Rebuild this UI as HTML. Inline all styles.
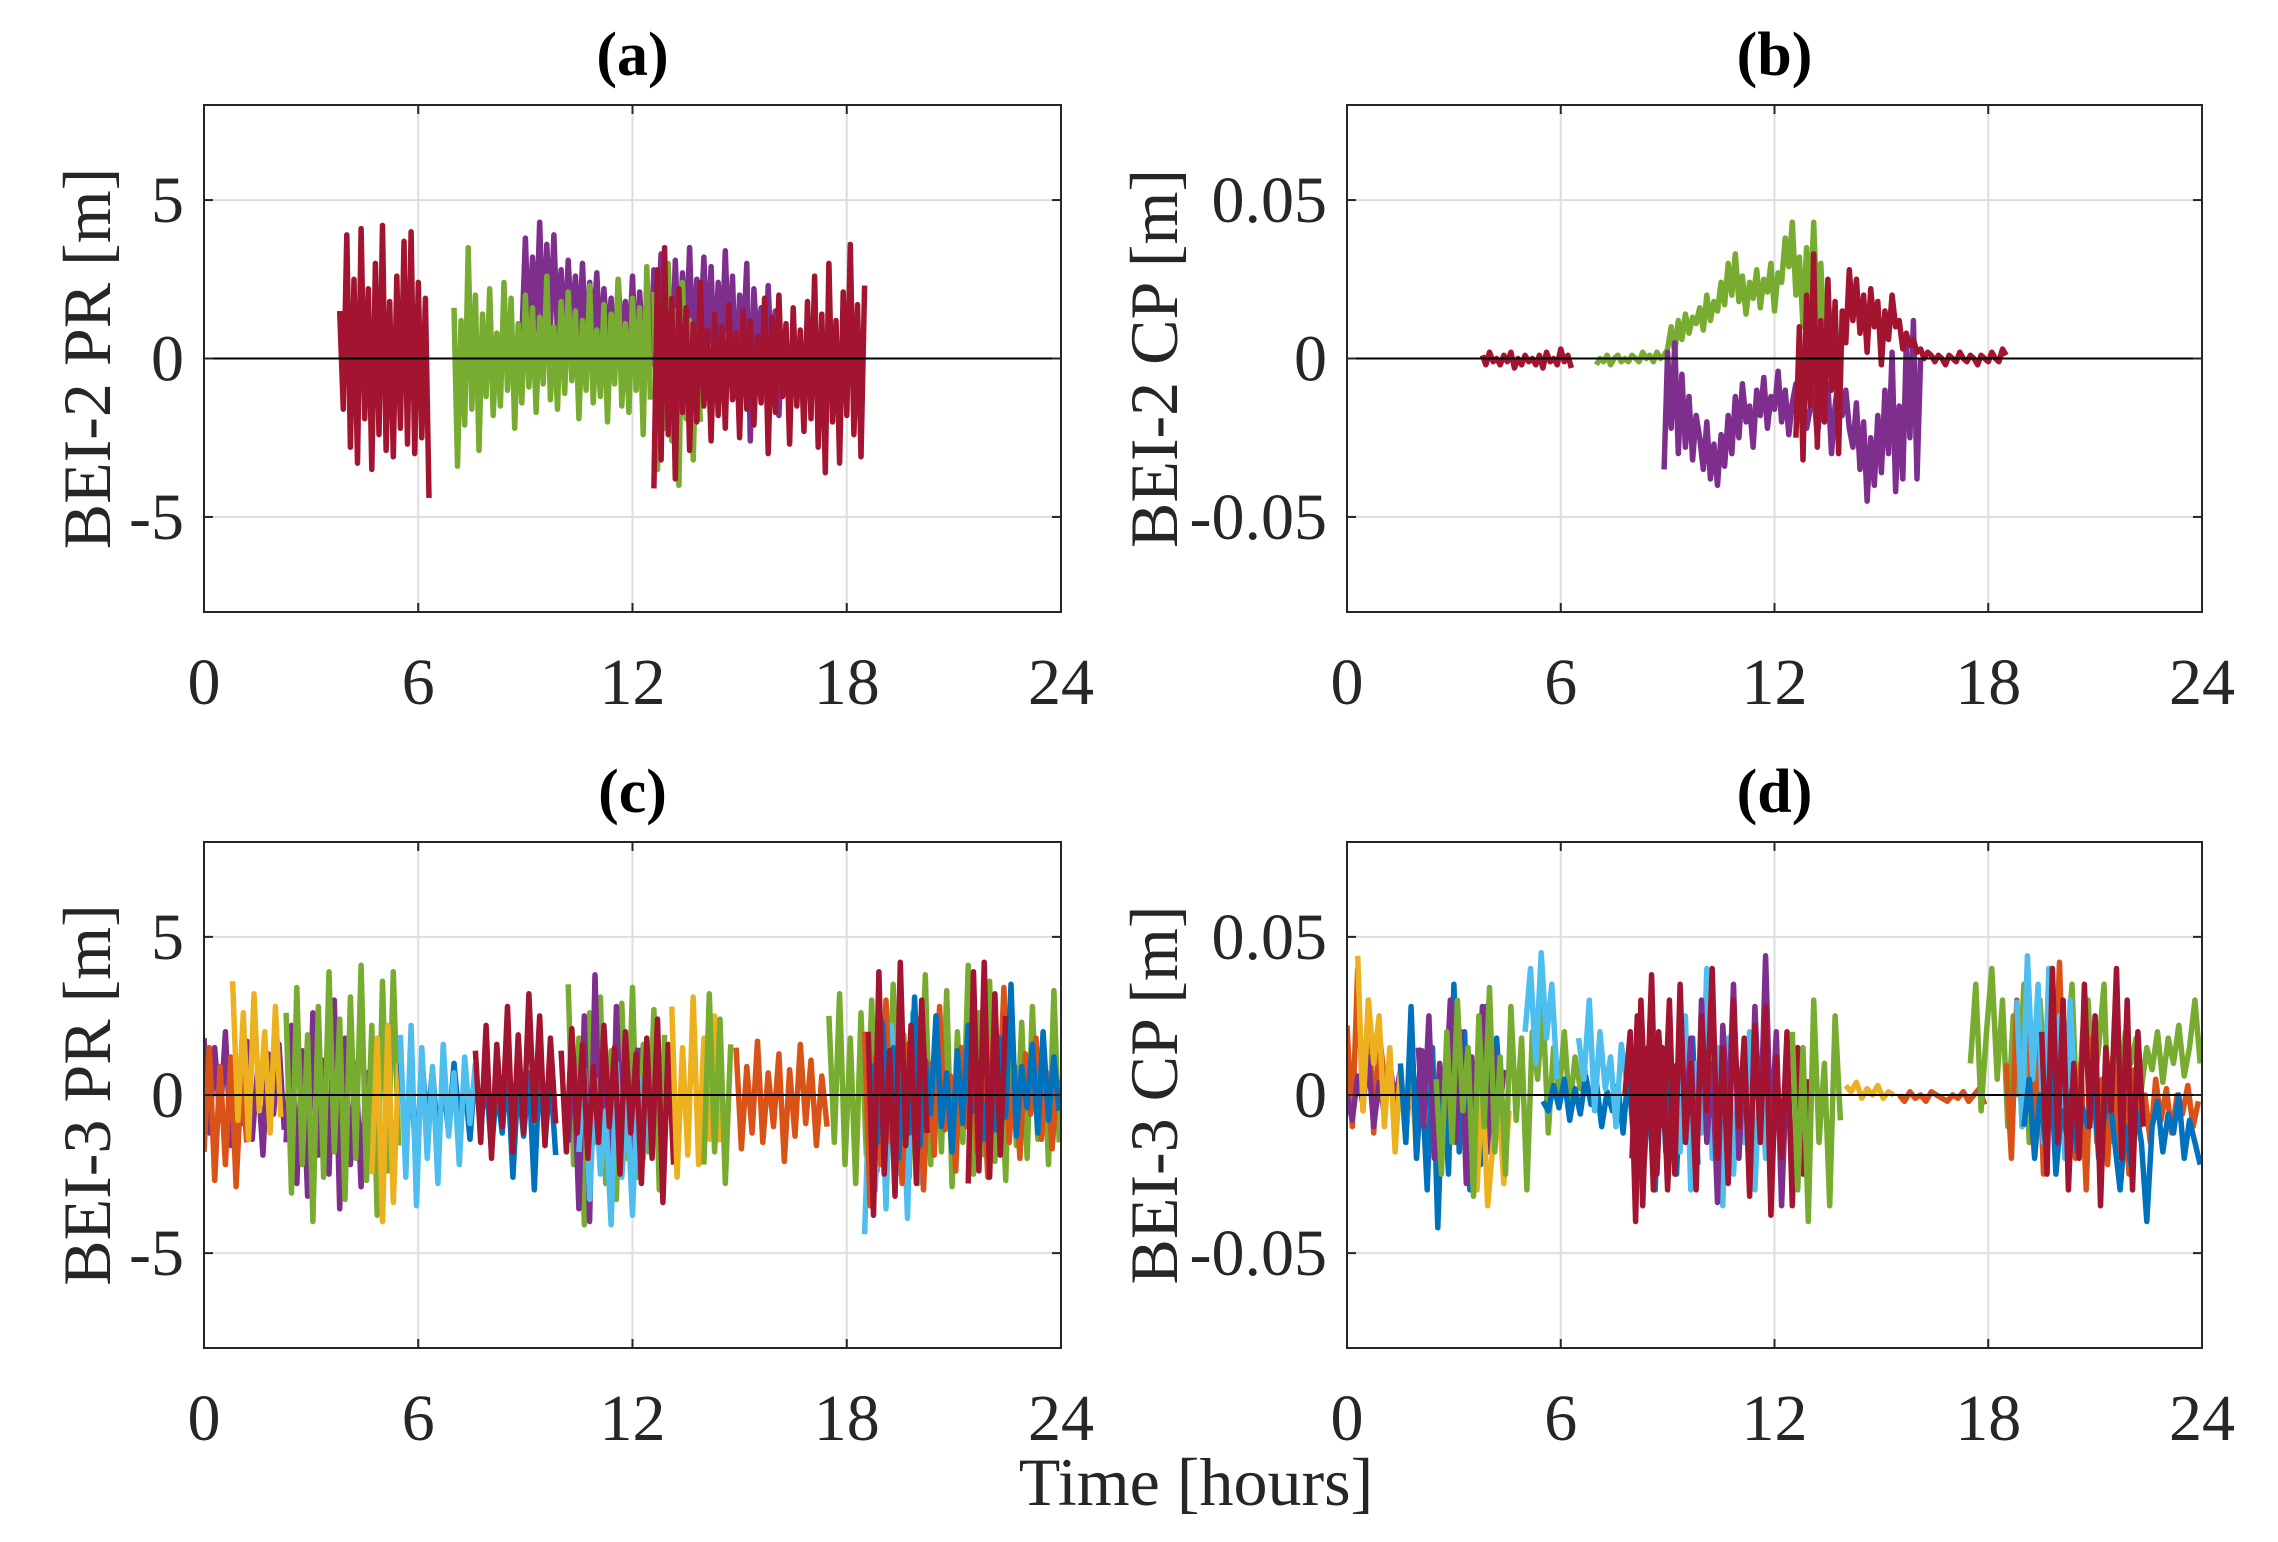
<!DOCTYPE html>
<html><head><meta charset="utf-8"><style>
html,body{margin:0;padding:0;background:#fff;}
svg{display:block;font-family:"Liberation Serif","DejaVu Serif",serif;}
</style></head><body>
<svg id="fig" width="2278" height="1542" viewBox="0 0 2278 1542" xmlns="http://www.w3.org/2000/svg"></svg>
<script>
const C={blue:"#0072BD",orange:"#D95319",yellow:"#EDB120",purple:"#7E2F8E",green:"#77AC30",cyan:"#4DBEEE",red:"#A2142F"};
const xTicks=[0,6,12,18,24];
const prTicks=[-5,0,5];
const cpTicks=[-0.05,0,0.05];
const prTickLabels=["-5","0","5"];
const cpTickLabels=["-0.05","0","0.05"];
const panelTitles=["(a)","(b)","(c)","(d)"];
const yLabels=["BEI-2 PR [m]","BEI-2 CP [m]","BEI-3 PR [m]","BEI-3 CP [m]"];

// Panel a series
const aColors=["purple","green","green","red","red"];
const aStarts=[8.9,7.0,12.6,3.8,12.6];
const aStep=0.1;
const aVals=[
[0.6,3.8,0.4,3.2,0.9,4.3,0.5,3.6,1.0,3.9,0.7,2.8,0.4,3.1,0.9,2.6,0.6,3.0,0.3,2.4,0.8,2.7,0.2,2.2,0.5,1.9,-0.3,2.5,0.4,1.8,0.1,2.6,-0.4,2.1,0.3,1.9,-0.2,2.8,0.6,3.3,0.2,2.9,-0.6,3.1,0.1,2.7,0.4,3.5,-0.1,2.5,0.8,3.2,0.2,2.9,-0.5,2.4,0.3,3.4,0.0,2.6,-1.2,2.0,0.5,3.0,-2.6,2.2,0.2,1.6,-1.0,2.3,-0.4,1.5,-1.8,0.8],
[1.6,-3.4,1.2,-2.1,3.5,-1.6,2.0,-2.9,1.4,-1.2,2.2,-1.8,0.8,-1.5,2.4,-1.0,1.9,-2.2,1.1,-1.4,2.0,-0.9,1.6,-1.7,1.3,-0.8,2.6,-1.3,1.0,-1.6,1.8,-1.1,2.1,-0.7,1.5,-1.9,1.2,-1.0,2.3,-1.4,0.9,-1.2,1.7,-2.0,1.4,-0.8,2.5,-1.5,1.1,-1.7,1.9,-1.0,1.6,-2.4,2.9,-1.3],
[2.1,-3.5,1.8,-2.2,3.0,-2.6,1.5,-4.0,2.4,-1.9,1.2,-3.2,0.9,-2.0],
[1.5,-1.6,3.9,-2.8,2.5,-3.3,4.1,-1.9,2.2,-3.5,3.0,-2.4,4.2,-2.9,1.8,-3.1,2.6,-2.2,3.7,-2.7,4.0,-3.0,2.4,-2.5,1.9,-4.4],
[-4.1,2.8,-3.2,3.5,-2.4,1.9,-3.8,2.2,-1.7,1.6,-2.9,1.1,-2.0,2.4,-1.5,0.9,-2.6,1.4,-1.8,1.0,-2.2,1.7,-1.3,0.8,-2.5,1.5,-1.6,1.2,-2.1,0.7,-1.4,1.9,-3.0,1.3,-1.7,2.0,-1.2,1.1,-2.7,1.6,-1.5,0.9,-2.3,1.8,-1.9,2.6,-2.8,1.4,-3.6,3.0,-2.0,1.2,-3.3,2.1,-1.8,3.6,-2.4,1.7,-3.1,2.3]
];
// Panel b series
const bColors=["red","green","purple","red"];
const bStarts=[3.8,7.0,8.9,12.6];
const bStep=0.1;
const bVals=[
[0.001,-0.002,0.002,-0.001,0.000,-0.002,0.001,-0.001,0.002,-0.003,0.000,-0.002,0.001,-0.001,0.000,-0.002,0.001,-0.003,0.002,-0.001,0.000,-0.002,0.003,-0.001,0.001,-0.003],
[-0.002,0.000,-0.001,0.001,-0.002,0.000,0.001,-0.001,0.000,-0.001,0.001,0.000,-0.001,0.002,0.000,0.001,-0.001,0.002,0.000,0.001,0.003,0.010,0.002,0.012,0.006,0.014,0.008,0.013,0.011,0.016,0.009,0.020,0.012,0.018,0.015,0.024,0.017,0.030,0.020,0.033,0.018,0.026,0.014,0.024,0.019,0.028,0.016,0.025,0.021,0.030,0.015,0.027,0.024,0.038,0.029,0.043,0.020,0.032,0.010,0.035,0.015,0.043,0.012,0.030,0.005,0.022,0.000,0.014,-0.005,0.008],
[-0.035,0.002,-0.022,0.005,-0.030,-0.005,-0.028,-0.012,-0.032,-0.018,-0.025,-0.035,-0.020,-0.038,-0.027,-0.040,-0.024,-0.034,-0.018,-0.030,-0.012,-0.025,-0.008,-0.020,-0.015,-0.028,-0.010,-0.018,-0.006,-0.022,-0.012,-0.016,-0.004,-0.020,-0.010,-0.024,-0.014,-0.008,-0.018,-0.012,-0.022,-0.016,-0.010,-0.025,-0.012,-0.020,-0.008,-0.030,-0.015,-0.006,-0.018,-0.010,-0.022,-0.028,-0.014,-0.035,-0.020,-0.045,-0.025,-0.040,-0.018,-0.036,-0.010,-0.030,0.002,-0.042,-0.015,-0.038,0.005,-0.025,0.012,-0.038,0.000],
[-0.025,0.010,-0.032,0.020,-0.015,0.033,-0.028,0.012,-0.020,0.025,-0.010,0.018,-0.030,0.015,0.005,0.028,0.012,0.025,0.008,0.020,0.002,0.022,0.010,0.018,-0.002,0.015,0.006,0.020,0.010,0.012,0.003,0.008,0.004,0.006,0.002,0.003,0.000,0.002,0.001,-0.001,0.001,0.000,-0.002,0.001,0.000,-0.001,0.002,0.000,-0.001,0.001,0.000,-0.002,0.001,0.000,-0.001,0.002,0.000,-0.001,0.003,0.001]
];
// Panel c series
const cColors=["purple","orange","yellow","purple","green","yellow","blue","cyan","red","green","purple","cyan","red","yellow","green","orange","green","cyan","orange","blue","red","red"];
const cStarts=[0,0,0.8,2.3,2.3,4.7,5.5,5.5,7.6,10.2,10.2,10.5,10.0,13.1,14.0,14.9,17.5,18.5,18.5,18.7,18.6,21.4];
const cStep=0.15;
const cVals=[
[1.8,-1.2,1.5,-0.8,2.0,-1.6,1.1,-0.9,1.7,-1.4,0.8,-1.9,1.3,-0.6,1.6,-1.1],
[-1.8,1.5,-2.7,0.9,-2.2,1.2,-2.9,0.6,-1.5],
[3.6,-0.8,2.6,-1.4,3.2,-0.5,2.0,-1.2,2.8,-0.7],
[-1.5,2.2,-2.8,1.4,-3.2,2.6,-1.9,1.1,-2.5,3.0,-3.6,1.8,-2.2,1.0,-2.9,0.8],
[2.6,-3.1,3.4,-2.2,1.9,-4.0,2.8,-2.6,3.9,-1.8,2.4,-3.3,3.1,-2.0,4.1,-2.7,2.2,-3.8,3.6,-2.4,3.9,-1.6],
[-2.5,1.8,-4.0,2.2,-3.4,1.0],
[1.0,-1.6,0.6,-2.4,1.2,-1.0,0.8,-1.5,0.5,-1.2,1.0,-0.8,0.4,-1.4,0.9,-1.0,0.6,-1.8,0.3,-1.2,0.8,-2.6,0.5,-1.3,0.7,-3.0,1.1,-1.5,0.6,-1.9],
[1.9,-2.6,2.2,-3.5,1.5,-2.0,0.9,-2.8,1.6,-1.3,0.7,-2.2,1.2,-0.9,1.0],
[1.4,-1.5,2.2,-2.0,1.6,-1.0,2.8,-1.8,1.9,-1.2,3.2,-0.8,2.5,-1.6,1.8,-0.9],
[3.5,-2.2,1.8,-4.1,2.6,-1.5,3.1,-2.8,1.4,-3.3,2.9,-2.0,3.4,-2.6,1.6,-1.8,2.7,-3.0,1.9],
[-1.5,1.2,-3.6,2.5,-4.0,3.8,-2.2,1.0,-3.5,2.8,-1.8,0.9,-2.6,1.5],
[-1.8,0.8,-3.3,0.5,-2.5,-0.5,-4.1,1.0,-2.6,-0.2,-3.8,0.6,-2.0,0.3],
[1.4,-1.8,2.1,-1.2,1.6,-2.0,0.9,-1.5,2.2,-1.0,1.5,-2.5,2.0,-1.2,1.3,-2.8,1.8,-2.0,2.4,-3.4,1.6,-2.2],
[2.8,-2.6,1.5,-1.9,3.1,-2.2,1.8,-1.4,2.5,-1.5],
[-2.2,3.2,-1.8,2.4,-2.8,1.6],
[1.5,-1.7,0.9,-1.2,1.7,-1.5,0.7,-1.0,1.3,-2.1,0.8,-1.3,1.6,-0.9,1.1,-1.6,0.6,-1.0],
[2.5,-1.5,3.2,-2.2,1.8,-2.8,2.6,-1.9,3.0,-2.4,2.2,-1.6,3.5,-2.0,1.9,-2.6,2.8,-1.4,3.8,-2.2,2.4,-1.8,3.3,-2.9,2.0,-1.5,4.1,-2.5,2.6,-1.9,3.6,-2.1,1.7,-2.7,3.0,-1.6,2.3,-2.0,2.8,-1.4,1.9,-2.2,3.3,-1.5],
[-4.4,0.8,-3.0,1.5,-3.6,2.2,-2.5,0.9,-3.9,2.6,-2.8,0.5],
[2.0,-3.5,1.2,-2.2,3.0,-1.5,0.8,-2.8,1.6,-1.2,2.4,-3.0,1.0,-1.9,2.8,-1.1,0.6,-2.4,1.5,-1.0,2.2,-1.8,1.0,-2.6,1.8,-0.8,3.4,-1.5,0.9,-2.0,1.3,-0.6,1.8,-1.4,0.7,-1.7,0.5],
[1.0,-1.5,2.3,-0.8,1.5,-2.0,0.8,-1.2,3.1,-1.6,1.1,-0.6,2.5,-1.0,0.7,-1.8,1.4,-0.9,2.2,-0.5,1.0,-1.4,0.6,-1.1,1.8,-0.7,3.5,-1.3,0.9,-0.4,1.6,-1.2,2.0,-0.8,1.2,-0.5],
[2.0,-3.8,3.9,-2.5,1.4,-3.2,4.2,-1.6,2.2,-2.8,3.0,-1.2],
[-2.8,3.9,-2.4,4.2,-2.6,3.2,-1.9,2.5]
];
// Panel d series
const dColors=["orange","purple","yellow","blue","purple","yellow","green","cyan","blue","cyan","red","cyan","purple","red","green","yellow","orange","green","orange","cyan","blue","red"];
const dStarts=[0,0,0.3,1.5,2.0,3.5,2.5,5.0,5.5,6.5,7.8,9.2,9.5,8.0,12.5,14.0,15.5,17.5,18.5,18.8,19.0,19.5];
const dStep=0.15;
const dVals=[
[0.022,-0.010,0.040,-0.005,0.030,-0.012,0.020,0.005],
[0.000,-0.008,0.006,-0.003,0.012,-0.010,0.004,-0.006,0.010,-0.002,0.008,-0.012,0.005,-0.004,0.014,-0.008,0.002],
[0.044,-0.005,0.030,0.010,0.025,-0.010,0.015,-0.018,0.008,-0.015,0.012,-0.020,0.005,-0.012],
[0.010,-0.015,0.028,-0.020,0.005,-0.030,0.015,-0.042,0.008,-0.025,0.035,-0.018,0.020,-0.030,0.010,-0.022,0.028,-0.012,0.018,-0.008],
[0.015,-0.010,0.025,-0.020,0.010,-0.005,0.030,-0.015,0.020,-0.028,0.012,-0.008,0.028,-0.018,0.015,-0.010,0.008],
[-0.010,-0.030,0.005,-0.035,-0.015,0.000,-0.028,-0.005],
[0.005,-0.025,0.020,-0.015,0.030,-0.005,0.015,-0.032,0.025,-0.010,0.034,-0.018,0.012,-0.025,0.028,-0.008,0.018,-0.030,0.020,0.005,0.028,-0.012,0.015,0.000,0.020,-0.005,0.012,0.002,0.008],
[0.020,0.040,0.010,0.045,0.018,0.035,0.005],
[-0.002,-0.005,0.003,-0.004,0.005,-0.008,0.002,-0.006,0.006,-0.003,0.004,-0.010,0.001,-0.005,0.003,-0.012,0.008,-0.015,0.004,-0.020,0.010,-0.030,0.015,-0.018,0.006,-0.025,0.012,-0.010,0.018,-0.022],
[0.018,0.005,0.030,-0.005,0.020,0.002,0.012,-0.010,0.016,0.004],
[0.000,0.020,-0.040,0.030,-0.010,0.038,-0.025,0.015,-0.030,0.010],
[0.005,-0.018,0.025,-0.030,0.010,-0.012,0.040,-0.020,0.015,-0.035,0.018,-0.025,0.008,-0.015,0.020,-0.030,0.010,-0.020,0.005],
[-0.010,0.018,-0.028,0.030,-0.015,0.010,-0.034,0.022,-0.008,0.035,-0.020,0.015,-0.030,0.028,-0.012,0.044,-0.015,0.020,-0.035,0.010],
[-0.020,0.025,-0.035,0.015,-0.030,0.020,-0.010,0.030,-0.025,0.035,-0.015,0.010,-0.030,0.025,-0.005,0.040,-0.020,0.015,-0.028,0.030,-0.010,0.018,-0.032,0.022,-0.015,0.028,-0.038,0.012,-0.020,0.020,-0.035,0.015,-0.025,0.005],
[0.020,-0.030,0.015,-0.040,0.030,-0.015,0.010,-0.035,0.025,-0.008],
[0.003,0.001,0.004,-0.001,0.002,0.000,0.003,-0.001,0.001,0.000],
[0.000,-0.002,0.001,-0.001,0.000,-0.002,0.001,0.000,-0.001,-0.002,0.000,-0.001,0.001,-0.002,0.000,0.002,-0.003],
[0.010,0.035,-0.005,0.020,0.040,0.005,0.030,-0.010,0.025,0.000,0.035,-0.015,0.020,0.030,0.005,0.040,-0.005,0.025,0.010,0.035,-0.010,0.020,0.030,0.000,0.015,0.035,-0.015,0.025,0.005,0.020,0.010,0.018,0.002,0.015,0.008,0.020,0.004,0.018,0.010,0.022,0.006,0.015,0.030,0.010],
[0.010,-0.020,0.030,-0.010,0.040,-0.015,0.020,-0.025,0.035,-0.005,0.042,-0.012,0.025,-0.020,0.010,-0.030,0.018,-0.015,0.005,-0.022,0.012,-0.018,0.002,-0.025,0.008,-0.010,0.000,-0.015,0.005,-0.008,0.002,-0.012,0.000,-0.006,0.003,-0.010,-0.002],
[0.030,-0.010,0.044,0.005,0.035,-0.015,0.040,0.000,0.025,-0.020,0.030,-0.005],
[-0.010,0.005,-0.020,0.000,-0.015,0.010,-0.025,-0.005,-0.012,0.002,-0.018,-0.004,-0.010,0.005,-0.020,-0.008,0.000,-0.015,-0.030,-0.010,-0.022,-0.005,-0.015,-0.040,-0.010,-0.002,-0.018,-0.006,-0.012,0.000,-0.020,-0.008,-0.015,-0.022],
[0.020,-0.025,0.040,-0.015,0.030,-0.030,0.010,-0.020,0.035,-0.010,0.025,-0.035,0.015,-0.005,0.040,-0.020,0.030,-0.030,0.020,-0.010]
];

const svg=document.getElementById('fig');
const NS="http://www.w3.org/2000/svg";
function mk(tag,attrs,parent){const e=document.createElementNS(NS,tag);for(const k in attrs)e.setAttribute(k,attrs[k]);(parent||svg).appendChild(e);return e;}

const panels=[
 {L:204,R:1061,T:105,B:612,ymax:8,ticks:prTicks,tl:prTickLabels,cols:aColors,st:aStarts,dt:aStep,vals:aVals,yo:118},
 {L:1347,R:2202,T:105,B:612,ymax:0.08,ticks:cpTicks,tl:cpTickLabels,cols:bColors,st:bStarts,dt:bStep,vals:bVals,yo:194},
 {L:204,R:1061,T:842,B:1348,ymax:8,ticks:prTicks,tl:prTickLabels,cols:cColors,st:cStarts,dt:cStep,vals:cVals,yo:118},
 {L:1347,R:2202,T:842,B:1348,ymax:0.08,ticks:cpTicks,tl:cpTickLabels,cols:dColors,st:dStarts,dt:dStep,vals:dVals,yo:194}
];

panels.forEach((p,i)=>{
  const g=mk('g',{});
  
  
  const X=t=>p.L+(t/24)*(p.R-p.L);
  const Y=v=>p.B-((v+p.ymax)/(2*p.ymax))*(p.B-p.T);
  xTicks.forEach(t=>{const l=mk('line',{x1:X(t),x2:X(t),y1:p.T,y2:p.B,stroke:'#dedede','stroke-width':2},g);
    
    });
  p.ticks.forEach(v=>{const l=mk('line',{x1:p.L,x2:p.R,y1:Y(v),y2:Y(v),stroke:'#dedede','stroke-width':2},g);
    
    });
  const cid='clip'+i;
  const cp=mk('clipPath',{id:cid},g);mk('rect',{x:p.L,y:p.T,width:p.R-p.L,height:p.B-p.T},cp);
  const sg=mk('g',{'clip-path':'url(#'+cid+')'},g);
  p.vals.forEach((arr,k)=>{
    const pts=arr.map((v,j)=>X(p.st[k]+j*p.dt).toFixed(1)+','+Y(v).toFixed(1)).join(' ');
    const pl=mk('polyline',{points:pts,fill:'none',stroke:C[p.cols[k]],'stroke-width':5.5,'stroke-linejoin':'round'},sg);
    
    
  });
  const z=mk('line',{x1:p.L,x2:p.R,y1:Y(0),y2:Y(0),stroke:'#000','stroke-width':2},g);
  
  
  const box=mk('rect',{x:p.L,y:p.T,width:p.R-p.L,height:p.B-p.T,fill:'none',stroke:'#262626','stroke-width':2},g);
  
  
  xTicks.forEach(t=>{
    mk('line',{x1:X(t),x2:X(t),y1:p.B,y2:p.B-9,stroke:'#262626','stroke-width':2},g);
    mk('line',{x1:X(t),x2:X(t),y1:p.T,y2:p.T+9,stroke:'#262626','stroke-width':2},g);
    const tx=mk('text',{x:X(t),y:p.B+92,'text-anchor':'middle','font-size':66,fill:'#262626'},g);
    tx.textContent=String(t);
    
    
  });
  p.ticks.forEach((v,j)=>{
    mk('line',{x1:p.L,x2:p.L+9,y1:Y(v),y2:Y(v),stroke:'#262626','stroke-width':2},g);
    mk('line',{x1:p.R,x2:p.R-9,y1:Y(v),y2:Y(v),stroke:'#262626','stroke-width':2},g);
    const tx=mk('text',{x:p.L-20,y:Y(v)+22,'text-anchor':'end','font-size':66,fill:'#262626'},g);
    tx.textContent=p.tl[j];
    
    
  });
  const tt=mk('text',{x:(p.L+p.R)/2,y:p.T-30,'text-anchor':'middle','font-size':62,'font-weight':'bold',fill:'#000'},g);
  tt.textContent=panelTitles[i];
  
  
  const yl=mk('text',{x:0,y:0,'text-anchor':'middle','font-size':68,fill:'#262626',transform:'translate('+(p.L-p.yo+24)+','+((p.T+p.B)/2)+') rotate(-90)'},g);
  yl.textContent=yLabels[i];
  
  
});
const xt=mk('text',{x:1196,y:1505,'text-anchor':'middle','font-size':68,fill:'#262626'});
xt.textContent="Time [hours]";


</script>
</body></html>
